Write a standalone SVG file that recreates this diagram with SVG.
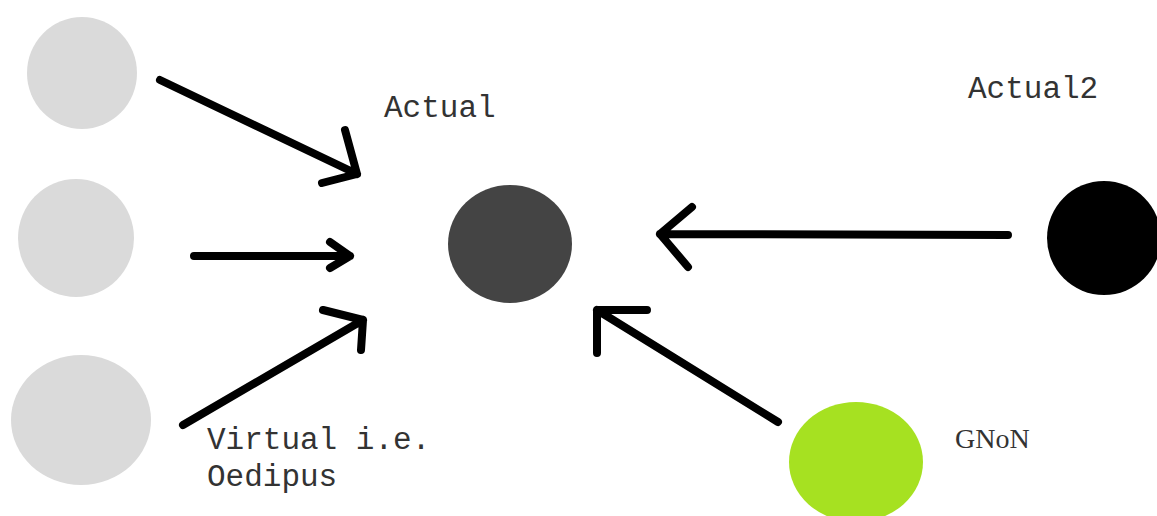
<svg xmlns="http://www.w3.org/2000/svg" width="1157" height="516" viewBox="0 0 1157 516">
<style>
.c{fill:none;stroke:#000;stroke-width:8;stroke-linecap:round;stroke-linejoin:round}
.m{font-family:"Liberation Mono","Courier New",monospace;font-size:31px;fill:#333}
.s{font-family:"Liberation Serif","Times New Roman",serif;font-size:28px;fill:#333}
</style>
<rect width="1157" height="516" fill="#fff"/>
<g id="node-virtual1"><ellipse cx="82" cy="73" rx="55" ry="56" fill="#dadada"/></g>
<g id="node-virtual2"><ellipse cx="76" cy="238" rx="58" ry="59" fill="#dadada"/></g>
<g id="node-virtual3"><ellipse cx="81" cy="420" rx="70" ry="65" fill="#dadada"/><text class="m" x="207" y="449">Virtual i.e.</text><text class="m" x="207" y="486">Oedipus</text></g>
<g id="node-actual"><ellipse cx="510" cy="244" rx="62" ry="59" fill="#444"/><text class="m" x="384" y="117">Actual</text></g>
<g id="node-actual2"><ellipse cx="1104" cy="238" rx="57" ry="57" fill="#000"/><text class="m" x="968" y="98">Actual2</text></g>
<g id="node-gnon"><ellipse cx="856" cy="462" rx="67" ry="60" fill="#a6e121"/><text class="s" x="955" y="448">GNoN</text></g>
<g id="connectors">
<path class="c" d="M160 80 L357 174 M345 130 L357 174 L322 183"/>
<path class="c" d="M194 256 L350 256 M330 242 L350 256 L330 268"/>
<path class="c" d="M183 425 L363 320 M323 310 L363 320 L361 350"/>
<path class="c" d="M1008 235 L660 234 M692 207 L660 234 L688 267"/>
<path class="c" d="M778 422 L597 310 M647 310 L597 310 L597 353"/>
</g>
</svg>
